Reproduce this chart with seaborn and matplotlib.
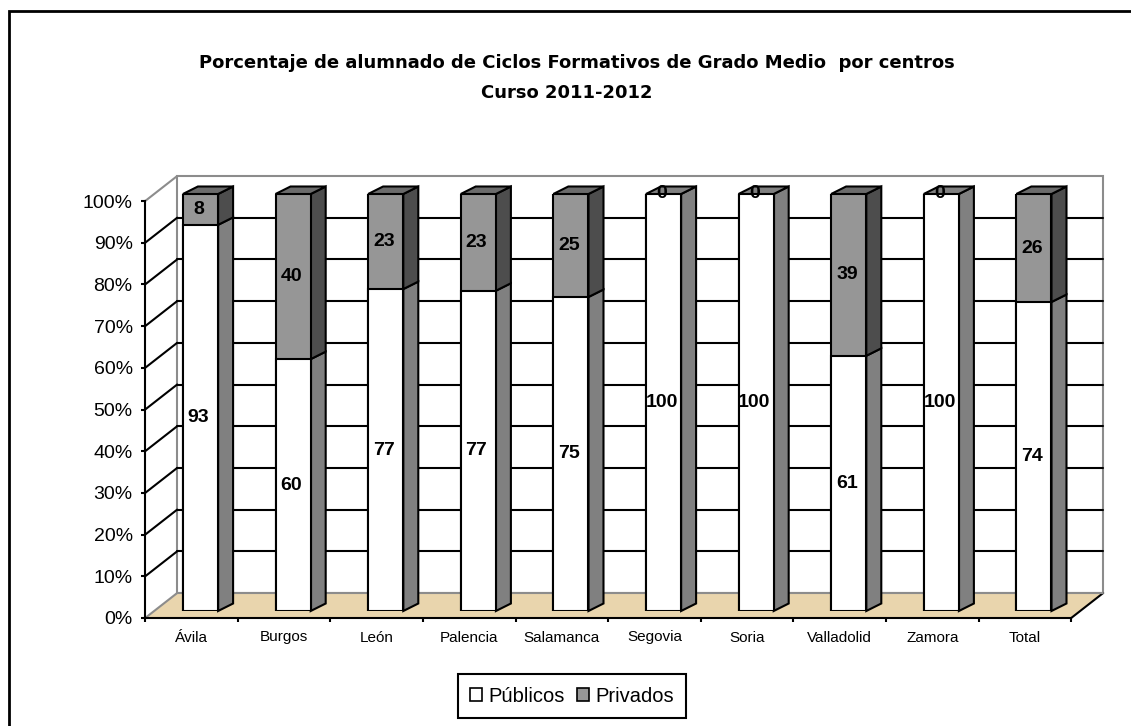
import numpy as np
import pandas as pd
import matplotlib
matplotlib.use("Agg")
import matplotlib.pyplot as plt
from matplotlib.patches import Polygon, Rectangle, Patch
import seaborn as sns

# Data
centros = ["Ávila", "Burgos", "León", "Palencia", "Salamanca",
           "Segovia", "Soria", "Valladolid", "Zamora", "Total"]
publicos = [92.6, 60.4, 77.2, 76.8, 75.3, 100.0, 100.0, 61.2, 100.0, 74.1]
privados = [7.4, 39.6, 22.8, 23.2, 24.7, 0.0, 0.0, 38.8, 0.0, 25.9]
etiq_publicos = [93, 60, 77, 77, 75, 100, 100, 61, 100, 74]
etiq_privados = [8, 40, 23, 23, 25, 0, 0, 39, 0, 26]
yticks = list(range(0, 101, 10))

df = pd.DataFrame({"centro": centros, "Públicos": publicos, "Privados": privados})
df["tope"] = df["Públicos"] + df["Privados"]

sns.set_style("white")
plt.rcParams["font.family"] = ["Liberation Sans", "DejaVu Sans"]
for k in ["text.color", "axes.labelcolor", "xtick.color", "ytick.color"]:
    plt.rcParams[k] = "black"

W, H = 1131, 726
fig = plt.figure(figsize=(W / 100, H / 100), dpi=100)

# plane of the bars (pixels)
px_left, px_w = 154.2, 926.0
px_y0, px_h = 611.0, 417.0
ax = fig.add_axes([px_left / W, (H - px_y0) / H, px_w / W, px_h / H])
# front plane (axis with labels)
axf = fig.add_axes([(px_left - 9) / W, (H - px_y0 - 7) / H, px_w / W, px_h / H])

# depth offsets in data units
upx = 1.0 / 92.6        # category units per pixel
upy = 100.0 / px_h      # percent per pixel
back_dx, back_dy = 23 * upx, 18 * upy
front_dx, front_dy = -9 * upx, -7 * upy
bar_dx, bar_dy = 15 * upx, 7.5 * upy

GRAY_EDGE = "#8c8c8c"
FLOOR = "#e9d5ad"

# back wall and floor
bl, br = -0.5 + back_dx, 9.5 + back_dx
fl, fr = -0.5 + front_dx, 9.5 + front_dx
ax.add_patch(Polygon([(bl, back_dy), (br, back_dy), (br, 100 + back_dy), (bl, 100 + back_dy)],
                     closed=True, facecolor="white", edgecolor=GRAY_EDGE, lw=1.5,
                     clip_on=False, zorder=0))
ax.add_patch(Polygon([(fl, front_dy), (fr, front_dy), (br, back_dy), (bl, back_dy)],
                     closed=True, facecolor=FLOOR, edgecolor="none", clip_on=False, zorder=0.5))
ax.plot([fl, bl], [front_dy, back_dy], color=GRAY_EDGE, lw=1.5, clip_on=False, zorder=0.6)
ax.plot([fr, br], [front_dy, back_dy], color="black", lw=1.5, clip_on=False, zorder=0.6)
ax.plot([bl, br], [back_dy, back_dy], color=GRAY_EDGE, lw=1.5, clip_on=False, zorder=0.6)
ax.plot([fl, bl], [100 + front_dy, 100 + back_dy], color=GRAY_EDGE, lw=1.5, clip_on=False, zorder=0.6)

# gridlines on back wall and left diagonals
for t in yticks[1:-1]:
    ax.plot([bl, br], [t + back_dy, t + back_dy], color="black", lw=1.5, clip_on=False, zorder=0.7)
    ax.plot([fl, bl], [t + front_dy, t + back_dy], color="black", lw=1.5, clip_on=False, zorder=0.7)

# front faces of the bars
sns.barplot(data=df, x="centro", y="tope", color="#969696", saturation=1, width=0.38,
            edgecolor="black", linewidth=1.5, ax=ax, zorder=3)
sns.barplot(data=df, x="centro", y="Públicos", color="white", saturation=1, width=0.38,
            edgecolor="black", linewidth=1.5, ax=ax, zorder=3)

# side and top faces
hw = 0.19
for i, (p, q) in enumerate(zip(publicos, privados)):
    xr = i + hw
    ax.add_patch(Polygon([(xr, 0), (xr + bar_dx, bar_dy), (xr + bar_dx, p + bar_dy), (xr, p)],
                         closed=True, facecolor="#808080", edgecolor="black", lw=1.5,
                         clip_on=False, zorder=2.5))
    if q > 0:
        ax.add_patch(Polygon([(xr, p), (xr + bar_dx, p + bar_dy), (xr + bar_dx, p + q + bar_dy), (xr, p + q)],
                             closed=True, facecolor="#4d4d4d", edgecolor="black", lw=1.5,
                             clip_on=False, zorder=2.5))
    top = p + q
    ax.add_patch(Polygon([(i - hw, top), (xr, top), (xr + bar_dx, top + bar_dy), (i - hw + bar_dx, top + bar_dy)],
                         closed=True, facecolor="#6b6b6b" if q > 0 else "#808080",
                         edgecolor="black", lw=1.5, clip_on=False, zorder=2.5))

# value labels
for i, (p, q) in enumerate(zip(publicos, privados)):
    ax.text(i - 0.02, p / 2, str(etiq_publicos[i]), ha="center", va="center",
            fontsize=14, fontweight="bold", zorder=5)
    ax.text(i - 0.02, p + q / 2, str(etiq_privados[i]), ha="center", va="center",
            fontsize=14, fontweight="bold", zorder=5)

ax.set_xlim(-0.5, 9.5)
ax.set_ylim(0, 100)
ax.set_axis_off()
ax.patch.set_alpha(0)

# front axis with ticks
axf.set_xlim(-0.5, 9.5)
axf.set_ylim(0, 100)
axf.patch.set_alpha(0)
axf.set_zorder(ax.get_zorder() + 1)
for s in ["top", "right"]:
    axf.spines[s].set_visible(False)
for s in ["left", "bottom"]:
    axf.spines[s].set_color("black")
    axf.spines[s].set_linewidth(1.5)
axf.set_yticks(yticks)
axf.set_yticklabels([f"{t}%" for t in yticks], fontsize=14)
axf.tick_params(axis="y", direction="out", length=3, width=1.5, pad=6, left=True)
axf.set_xticks(np.arange(-0.5, 10, 1.0))
axf.set_xticklabels([])
axf.tick_params(axis="x", which="major", direction="out", length=3, width=1.5, bottom=True)
axf.set_xticks(np.arange(len(centros)), minor=True)
axf.set_xticklabels(centros, minor=True, fontsize=11)
axf.tick_params(axis="x", which="minor", length=0, pad=9)

# title
fig.text(577 / W, 1 - 63 / H, "Porcentaje de alumnado de Ciclos Formativos de Grado Medio  por centros",
         ha="center", va="center", fontsize=13, fontweight="bold", family="DejaVu Sans")
fig.text(567 / W, 1 - 93 / H, "Curso 2011-2012",
         ha="center", va="center", fontsize=13, fontweight="bold", family="DejaVu Sans")

# legend
handles = [Patch(facecolor="white", edgecolor="black", lw=1.2, label="Públicos"),
           Patch(facecolor="#969696", edgecolor="black", lw=1.2, label="Privados")]
leg = fig.legend(handles=handles, loc="center", bbox_to_anchor=(572 / W, 1 - 696 / H), ncol=2,
                 fontsize=14.5, frameon=True, fancybox=False, edgecolor="black", framealpha=1,
                 handlelength=0.6, handleheight=0.6, handletextpad=0.3, columnspacing=0.6,
                 borderpad=0.6, borderaxespad=0)
leg.get_frame().set_linewidth(1.5)

# outer chart border
fig.patches.append(Rectangle((9 / W, -0.1), 1.2, 1.1 - 11 / H, transform=fig.transFigure,
                             fill=False, edgecolor="black", lw=2))

fig.savefig("out.png", dpi=100)
